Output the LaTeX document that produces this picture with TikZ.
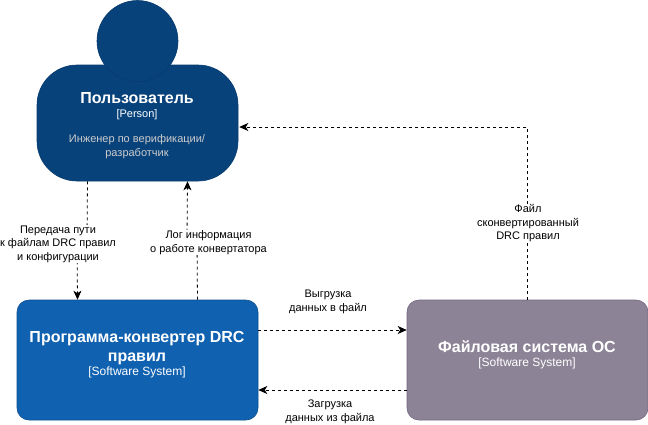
\documentclass[tikz,border=0pt]{standalone}
\usepackage{fontspec}
\setmainfont{Liberation Sans}
\usetikzlibrary{arrows.meta}
\definecolor{pfill}{HTML}{08427B}
\definecolor{pline}{HTML}{073B6F}
\definecolor{sfill}{HTML}{1061B0}
\definecolor{sline}{HTML}{0D5091}
\definecolor{ffill}{HTML}{8C8496}
\definecolor{fline}{HTML}{736782}
\definecolor{dtext}{HTML}{CCCCCC}
\tikzset{
  sysbox/.style={draw,line width=0.6pt,rounded corners=12pt,minimum width=241pt,minimum height=120pt,inner sep=0pt},
  title/.style={text=white,font=\fontsize{16}{19}\selectfont\bfseries,align=center,inner sep=0pt},
  small/.style={text=white,font=\fontsize{11}{13.5}\selectfont,align=center,inner sep=0pt},
  bigsmall/.style={text=white,font=\fontsize{12}{14}\selectfont,align=center,inner sep=0pt},
  desc/.style={text=dtext,font=\fontsize{11}{14}\selectfont,align=center,inner sep=0pt},
  flow/.style={draw=black,line width=0.8pt,dash pattern=on 3pt off 3pt,-{Stealth[length=9pt,width=8pt,inset=2.5pt]}},
  lab/.style={fill=white,text=black,font=\fontsize{11}{13.5}\selectfont,align=center,inner sep=1pt}
}
\begin{document}
\begin{tikzpicture}[x=1pt,y=-1pt]
\useasboundingbox (0,0) rectangle (648,424);
\node[draw=pline,fill=pfill,line width=0.6pt,rounded corners=40pt,minimum width=201pt,minimum height=116pt,inner sep=0pt] (body) at (137.5,123) {};
\node[circle,draw=pline,fill=pfill,line width=0.6pt,minimum size=81pt,inner sep=0pt] (head) at (137.5,41) {};
\node[title] (ptitle) at (137,98.5) {Пользователь};
\node[small] (ptype) at (137,114.5) {[Person]};
\node[desc] (pdesc) at (137,147) {Инженер по верификации/\\разработчик};
\node[sysbox,draw=sline,fill=sfill] (conv) at (137.5,360) {};
\node[title] (ctitle) at (137,348) {Программа-конвертер DRC\\правил};
\node[bigsmall] (ctype) at (137,372.5) {[Software System]};
\node[sysbox,draw=fline,fill=ffill] (fs) at (527.5,360) {};
\node[title] (ftitle) at (527,346.5) {Файловая система ОС};
\node[bigsmall] (ftype) at (527,363.5) {[Software System]};
\coordinate (corner) at (527.5,127);
\coordinate (bendA) at (87,240);
\coordinate (bendB) at (77,240);
\coordinate (bendC) at (197,240);
\coordinate (bendD) at (187,240);
\draw[flow] ([xshift=-50pt]body.south) -- (bendA) -- (bendB) -- ([xshift=-60pt]conv.north);
\draw[flow] ([xshift=60pt]conv.north) -- (bendC) -- (bendD) -- ([xshift=50pt]body.south);
\draw[flow] (fs.north) -- (corner) -- ([xshift=1pt]body.east |- corner);
\draw[flow] ([yshift=30pt]conv.east) -- ([yshift=30pt]fs.west);
\draw[flow] ([yshift=-30pt]fs.west) -- ([yshift=-30pt]conv.east);
\node[lab] (l1) at (58,244) {Передача пути\\к файлам DRC правил\\и конфигурации};
\node[lab] (l2) at (208.5,242.5) {Лог информация\\о работе конвертатора};
\node[lab] (l3) at (528,223.5) {Файл\\сконвертированный\\DRC правил};
\node[lab] (l4) at (328,302) {Выгрузка\\данных в файл};
\node[lab] (l5) at (330,412) {Загрузка\\данных из файла};
\end{tikzpicture}
\end{document}
